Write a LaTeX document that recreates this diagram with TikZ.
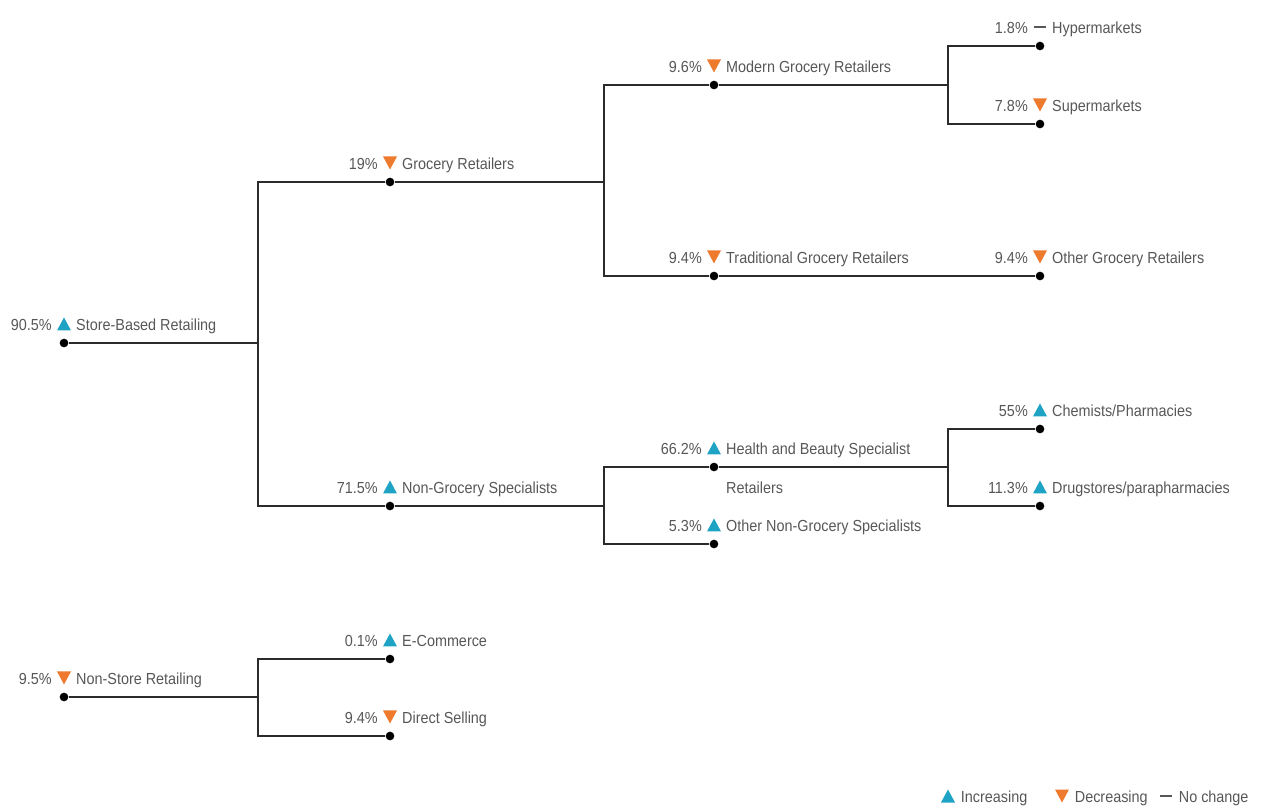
\documentclass[tikz,border=0pt]{standalone}
\usepackage{fontspec}
\setmainfont[FakeStretch=0.9]{Liberation Sans}
\usetikzlibrary{positioning}

\definecolor{incr}{HTML}{1FA3C4}
\definecolor{decr}{HTML}{EE7A2E}
\definecolor{txt}{HTML}{575757}
\definecolor{wire}{HTML}{2B2B2B}

\tikzset{
  dot/.style={circle, fill=black, inner sep=0pt, minimum size=6.5pt},
  link/.style={draw=wire, line width=0.9pt},
  trend/.style={inner sep=0pt, minimum width=10.5pt, minimum height=9.75pt},
  up/.style={trend, path picture={\fill[incr] (path picture bounding box.south west) -- (path picture bounding box.south east) -- (path picture bounding box.north) -- cycle;}},
  down/.style={trend, path picture={\fill[decr] (path picture bounding box.north west) -- (path picture bounding box.north east) -- (path picture bounding box.south) -- cycle;}},
  same/.style={trend, path picture={\draw[txt, line width=0.9pt] ([xshift=0.5pt]path picture bounding box.west) -- ([xshift=-0.5pt]path picture bounding box.east);}},
  txtnode/.style={inner sep=0pt, text=txt, font=\fontsize{12}{14}\selectfont},
}

% dot, trend marker, share and label of one branch
\newcommand\branch[5]{%
  \node[dot] (#1) at (#2) {};
  \node[#4, above=5.75pt of #1] (#1-t) {};
  \node[txtnode, left=3.5pt of #1-t.south west, anchor=base east] (#1-p) {#3};
  \node[txtnode, right=3.5pt of #1-t.south east, anchor=base west] (#1-l) {#5};
}

\begin{document}
\begin{tikzpicture}[x=0.75pt, y=-0.75pt]
  \useasboundingbox (0,0) rectangle (1264,807);

  % store-based
  \branch{sbr}{64,343}{90.5\%}{up}{Store-Based Retailing}
  \branch{gr}{390,182}{19\%}{down}{Grocery Retailers}
  \branch{ngs}{390,506}{71.5\%}{up}{Non-Grocery Specialists}
  \branch{mgr}{714,85}{9.6\%}{down}{Modern Grocery Retailers}
  \branch{tgr}{714,276}{9.4\%}{down}{Traditional Grocery Retailers}
  \branch{hyp}{1040,46}{1.8\%}{same}{Hypermarkets}
  \branch{sup}{1040,124}{7.8\%}{down}{Supermarkets}
  \branch{ogr}{1040,276}{9.4\%}{down}{Other Grocery Retailers}
  \branch{hbs}{714,467}{66.2\%}{up}{Health and Beauty Specialist}
  \node[txtnode, below=29.25pt of hbs-l.base west, anchor=base west] (hbs-l2) {Retailers};
  \branch{ong}{714,544}{5.3\%}{up}{Other Non-Grocery Specialists}
  \branch{chp}{1040,429}{55\%}{up}{Chemists/Pharmacies}
  \branch{drg}{1040,506}{11.3\%}{up}{Drugstores/parapharmacies}

  % non-store
  \branch{nsr}{64,697}{9.5\%}{down}{Non-Store Retailing}
  \branch{ecm}{390,659}{0.1\%}{up}{E-Commerce}
  \branch{dsl}{390,736}{9.4\%}{down}{Direct Selling}

  \coordinate (j-sbr) at (258,343);
  \coordinate (j-gr) at (604,182);
  \coordinate (j-ngs) at (604,506);
  \coordinate (j-mgr) at (948,85);
  \coordinate (j-hbs) at (948,467);
  \coordinate (j-nsr) at (258,697);

  \draw[link] (sbr) -- (j-sbr);
  \draw[link] (gr) -| (j-sbr) |- (ngs);
  \draw[link] (gr) -- (j-gr);
  \draw[link] (mgr) -| (j-gr) |- (tgr);
  \draw[link] (mgr) -- (j-mgr);
  \draw[link] (hyp) -| (j-mgr) |- (sup);
  \draw[link] (tgr) -- (ogr);
  \draw[link] (ngs) -- (j-ngs);
  \draw[link] (hbs) -| (j-ngs) |- (ong);
  \draw[link] (hbs) -- (j-hbs);
  \draw[link] (chp) -| (j-hbs) |- (drg);
  \draw[link] (nsr) -- (j-nsr);
  \draw[link] (ecm) -| (j-nsr) |- (dsl);

  % legend
  \node[up] (key-up) at (948,796) {};
  \node[txtnode, right=4pt of key-up.south east, anchor=base west] (key-up-l) {Increasing};
  \node[down] (key-down) at (1062,796) {};
  \node[txtnode, right=4pt of key-down.south east, anchor=base west] (key-down-l) {Decreasing};
  \node[same] (key-same) at (1166,796) {};
  \node[txtnode, right=4pt of key-same.south east, anchor=base west] (key-same-l) {No change};
\end{tikzpicture}
\end{document}
